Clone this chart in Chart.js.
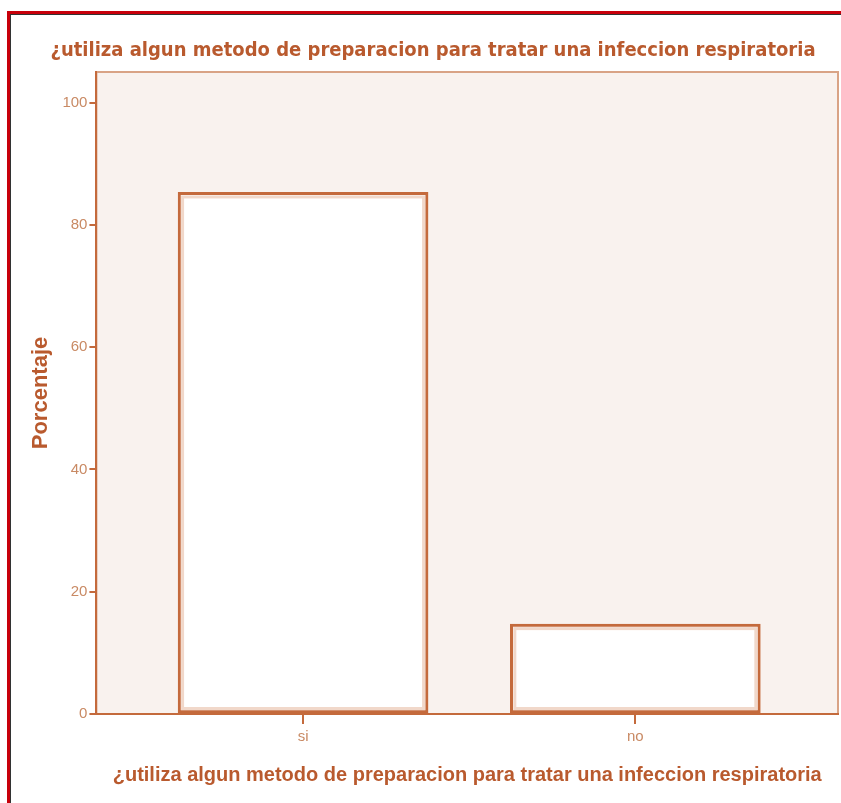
<!DOCTYPE html>
<html>
<head>
<meta charset="utf-8">
<script src="https://cdn.jsdelivr.net/npm/chart.js@4.4.1/dist/chart.umd.min.js"></script>
<style>
  html, body { margin: 0; padding: 0; background: #fff; overflow: hidden; }
  #frame {
    position: absolute; left: 7px; top: 11px; width: 900px; height: 900px;
    border-top: 3px solid #c8000a; border-left: 3px solid #c8000a;
  }
  #frame-inner {
    position: absolute; left: 0; top: 0; width: 900px; height: 900px;
    border-top: 1px solid #333; border-left: 1px solid #333;
  }
  #wrap { position: absolute; left: 0; top: 0; width: 841px; height: 803px; }
</style>
</head>
<body>
<div id="frame"><div id="frame-inner"></div></div>
<div id="wrap"><canvas id="chart" width="841" height="803"></canvas></div>
<script>
// Values
const categories = ['si', 'no'];
const percentages = [85.3, 14.7];
const yTicks = [0, 20, 40, 60, 80, 100];
const chartTitle = '¿utiliza algun metodo de preparacion para tratar una infeccion respiratoria';
const xTitle = '¿utiliza algun metodo de preparacion para tratar una infeccion respiratoria';
const yTitle = 'Porcentaje';

const brown = '#c46a3c';
const lightBrown = '#d9a385';
const tickText = '#c98a64';

// plot background + frame
const plotBackground = {
    id: 'plotBackground',
    beforeDraw(chart) {
        const { ctx, chartArea: a } = chart;
        ctx.save();
        ctx.fillStyle = '#f9f2ee';
        ctx.fillRect(a.left, a.top, a.right - a.left, a.bottom - a.top);
        ctx.strokeStyle = lightBrown;
        ctx.lineWidth = 2;
        ctx.strokeRect(a.left, a.top, a.right - a.left, a.bottom - a.top);
        ctx.restore();
    }
};

// light inner band inside each bar outline
const barInner = {
    id: 'barInner',
    afterDatasetsDraw(chart) {
        const { ctx } = chart;
        chart.getDatasetMeta(0).data.forEach(bar => {
            const left = bar.x - bar.width / 2;
            ctx.save();
            ctx.strokeStyle = '#f1d8ca';
            ctx.lineWidth = 3;
            ctx.strokeRect(left + 4.5, bar.y + 4.5, bar.width - 9, bar.base - bar.y - 9);
            ctx.restore();
        });
    }
};

new Chart(document.getElementById('chart'), {
    type: 'bar',
    data: {
        datasets: [{
            data: categories.map((c, i) => ({ x: i + 1, y: percentages[i] })),
            backgroundColor: '#ffffff',
            borderColor: brown,
            borderWidth: 3,
            borderSkipped: false,
            barThickness: 250
        }]
    },
    options: {
        responsive: false,
        animation: false,
        devicePixelRatio: 1,
        layout: { padding: { left: 28, right: 3, top: 39, bottom: 16 } },
        plugins: {
            legend: { display: false },
            tooltip: { enabled: false },
            title: {
                display: true,
                text: chartTitle,
                color: '#b95a2e',
                font: { family: "'DejaVu Sans Condensed', sans-serif", size: 20, weight: 'bold' },
                padding: { top: 0, bottom: 9 }
            }
        },
        scales: {
            x: {
                type: 'linear',
                offset: false,
                min: 0.378,
                max: 2.61,
                afterBuildTicks: axis => { axis.ticks = categories.map((c, i) => ({ value: i + 1 })); },
                ticks: {
                    callback: v => categories[v - 1],
                    color: tickText,
                    font: { family: "'Liberation Sans', sans-serif", size: 15 },
                    padding: 4
                },
                grid: { offset: false, drawOnChartArea: false, color: brown, lineWidth: 2, tickLength: 10 },
                border: { color: brown, width: 2 },
                title: {
                    display: true,
                    text: xTitle,
                    color: '#b95a2e',
                    font: { family: "'Liberation Sans', sans-serif", size: 20, weight: 'bold' },
                    padding: { top: 13, bottom: 0 }
                }
            },
            y: {
                min: 0,
                max: 105,
                afterBuildTicks: axis => { axis.ticks = yTicks.map(v => ({ value: v })); },
                ticks: {
                    color: tickText,
                    font: { family: "'Liberation Sans', sans-serif", size: 15 },
                    padding: 2
                },
                grid: { drawOnChartArea: false, color: brown, lineWidth: 2, tickLength: 7 },
                border: { color: brown, width: 2 },
                title: {
                    display: true,
                    text: yTitle,
                    color: '#b95a2e',
                    font: { family: "'Liberation Sans', sans-serif", size: 22, weight: 'bold' },
                    padding: { top: 0, bottom: 6 }
                }
            }
        }
    },
    plugins: [plotBackground, barInner]
});
</script>
</body>
</html>
